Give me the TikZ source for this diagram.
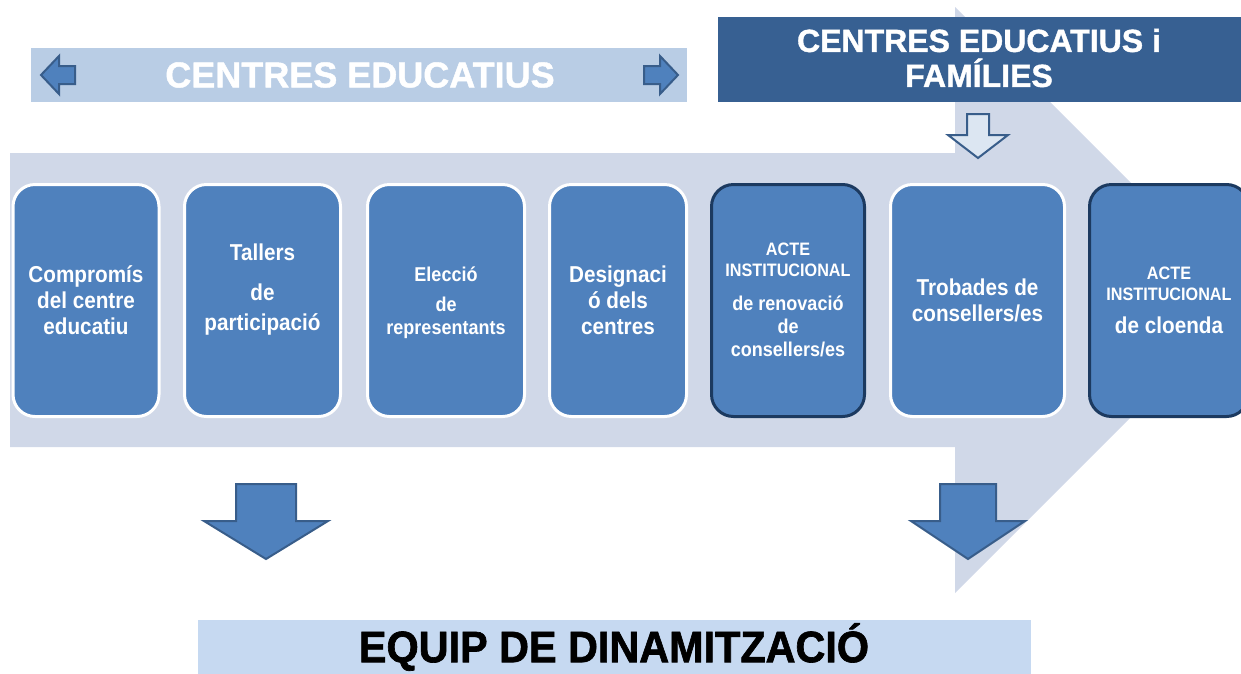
\documentclass[tikz,border=0pt]{standalone}
\usepackage{fontspec}
\setmainfont{Liberation Sans}
\newfontfamily\narrowfont[FakeStretch=0.9]{Liberation Sans}
\newfontfamily\heavyfont[FakeBold=1.2]{Liberation Sans}
\newfontfamily\teamfont[FakeStretch=0.94, FakeBold=1.5]{Liberation Sans}

\definecolor{flowgrey}{HTML}{D0D8E8}
\definecolor{stageblue}{HTML}{4F81BD}
\definecolor{navyedge}{HTML}{1C3A60}
\definecolor{arrowedge}{HTML}{385D8A}
\definecolor{bannerlight}{HTML}{B9CDE5}
\definecolor{bannerdark}{HTML}{376092}
\definecolor{bannerbottom}{HTML}{C6D9F1}
\definecolor{hollowfill}{HTML}{DCE6F2}

\tikzset{
  stage/.style={rounded corners=22pt, fill=stageblue, draw=white, line width=3pt,
    minimum height=232pt, inner sep=0pt},
  keystage/.style={stage, draw=navyedge},
  stagetext/.style={text=white, align=center, inner sep=0pt,
    font=\narrowfont\bfseries\fontsize{23}{26}\selectfont},
  blockarrow/.style={fill=stageblue, draw=arrowedge, line width=2pt, line join=miter},
}

\begin{document}
\begin{tikzpicture}[x=1pt, y=-1pt]
  \useasboundingbox (0,0) rectangle (1241,673);
  \clip (0,0) rectangle (1241,673);

  % big flow arrow behind everything
  \fill[flowgrey] (10,153) -- (955,153) -- (955,7) -- (1248,300) -- (955,593)
    -- (955,447) -- (10,447) -- cycle;

  % top banners
  \node[fill=bannerlight, minimum width=656pt, minimum height=54pt, inner sep=0pt]
    (centres) at (359,75) {};
  \node[text=white, font=\heavyfont\bfseries\fontsize{36}{40}\selectfont] (centrestext) at (360,75) {CENTRES EDUCATIUS};
  \draw[blockarrow] (41,75) -- (59,56) -- (59,66) -- (75,66) -- (75,84) -- (59,84) -- (59,94) -- cycle;
  \draw[blockarrow] (678,75) -- (660,56) -- (660,66) -- (644,66) -- (644,84) -- (660,84) -- (660,94) -- cycle;

  \node[fill=bannerdark, minimum width=523pt, minimum height=85pt, inner sep=0pt]
    (families) at (979.5,59.5) {};
  \node[text=white, align=center, font=\heavyfont\bfseries\fontsize{32}{35}\selectfont]
    (familiestext) at (979,58) {CENTRES EDUCATIUS i\\FAMÍLIES};
  \draw[blockarrow, fill=hollowfill] (967,114) -- (989,114) -- (989,135) -- (1008,135)
    -- (978,158) -- (948,135) -- (967,135) -- cycle;

  % stages
  \node[stage, minimum width=146pt] (compromis) at (86,300.5) {};
  \node[stage, minimum width=156pt] (tallers) at (262.5,300.5) {};
  \node[stage, minimum width=157pt] (eleccio) at (446,300.5) {};
  \node[stage, minimum width=137pt] (designacio) at (618,300.5) {};
  \node[keystage, minimum width=153pt] (renovacio) at (788,300.5) {};
  \node[stage, minimum width=174pt] (trobades) at (977.5,300.5) {};
  \node[keystage, minimum width=159pt] (cloenda) at (1169,300.5) {};

  \node[stagetext] (compromistext) at (compromis) {Compromís\\del centre\\educatiu};
  \node[stagetext, yshift=11pt] (tallerstext) at (tallers) {Tallers\\[14pt]de\\[4pt]participació};
  \node[stagetext, font=\narrowfont\bfseries\fontsize{20}{23}\selectfont, yshift=-2pt]
    (elecciotext) at (eleccio) {Elecció\\[7pt]de\\representants};
  \node[stagetext] (designaciotext) at (designacio) {Designaci\\ó dels\\centres};
  \node[stagetext, font=\narrowfont\bfseries\fontsize{20}{23}\selectfont, yshift=1pt]
    (renovaciotext) at (renovacio)
    {\fontsize{18}{21}\selectfont ACTE\\[-2pt]\fontsize{18}{21}\selectfont INSTITUCIONAL\\[11pt]de renovació\\de\\consellers/es};
  \node[stagetext] (trobadestext) at (trobades) {Trobades de\\consellers/es};
  \node[stagetext] (cloendatext) at (cloenda)
    {\fontsize{18}{21}\selectfont ACTE\\[-5pt]\fontsize{18}{21}\selectfont INSTITUCIONAL\\[7pt]de cloenda};

  % down arrows to the team
  \draw[blockarrow] (236,484) -- (296,484) -- (296,521) -- (328,521) -- (266,559)
    -- (204,521) -- (236,521) -- cycle;
  \draw[blockarrow] (940,484) -- (996,484) -- (996,521) -- (1025,521) -- (968,559)
    -- (911,521) -- (940,521) -- cycle;

  \node[fill=bannerbottom, minimum width=833pt, minimum height=54pt, inner sep=0pt]
    (equip) at (614.5,647) {};
  \node[font=\teamfont\bfseries\fontsize{44}{46}\selectfont] (equiptext) at (614,647) {EQUIP DE DINAMITZACIÓ};
\end{tikzpicture}
\end{document}
